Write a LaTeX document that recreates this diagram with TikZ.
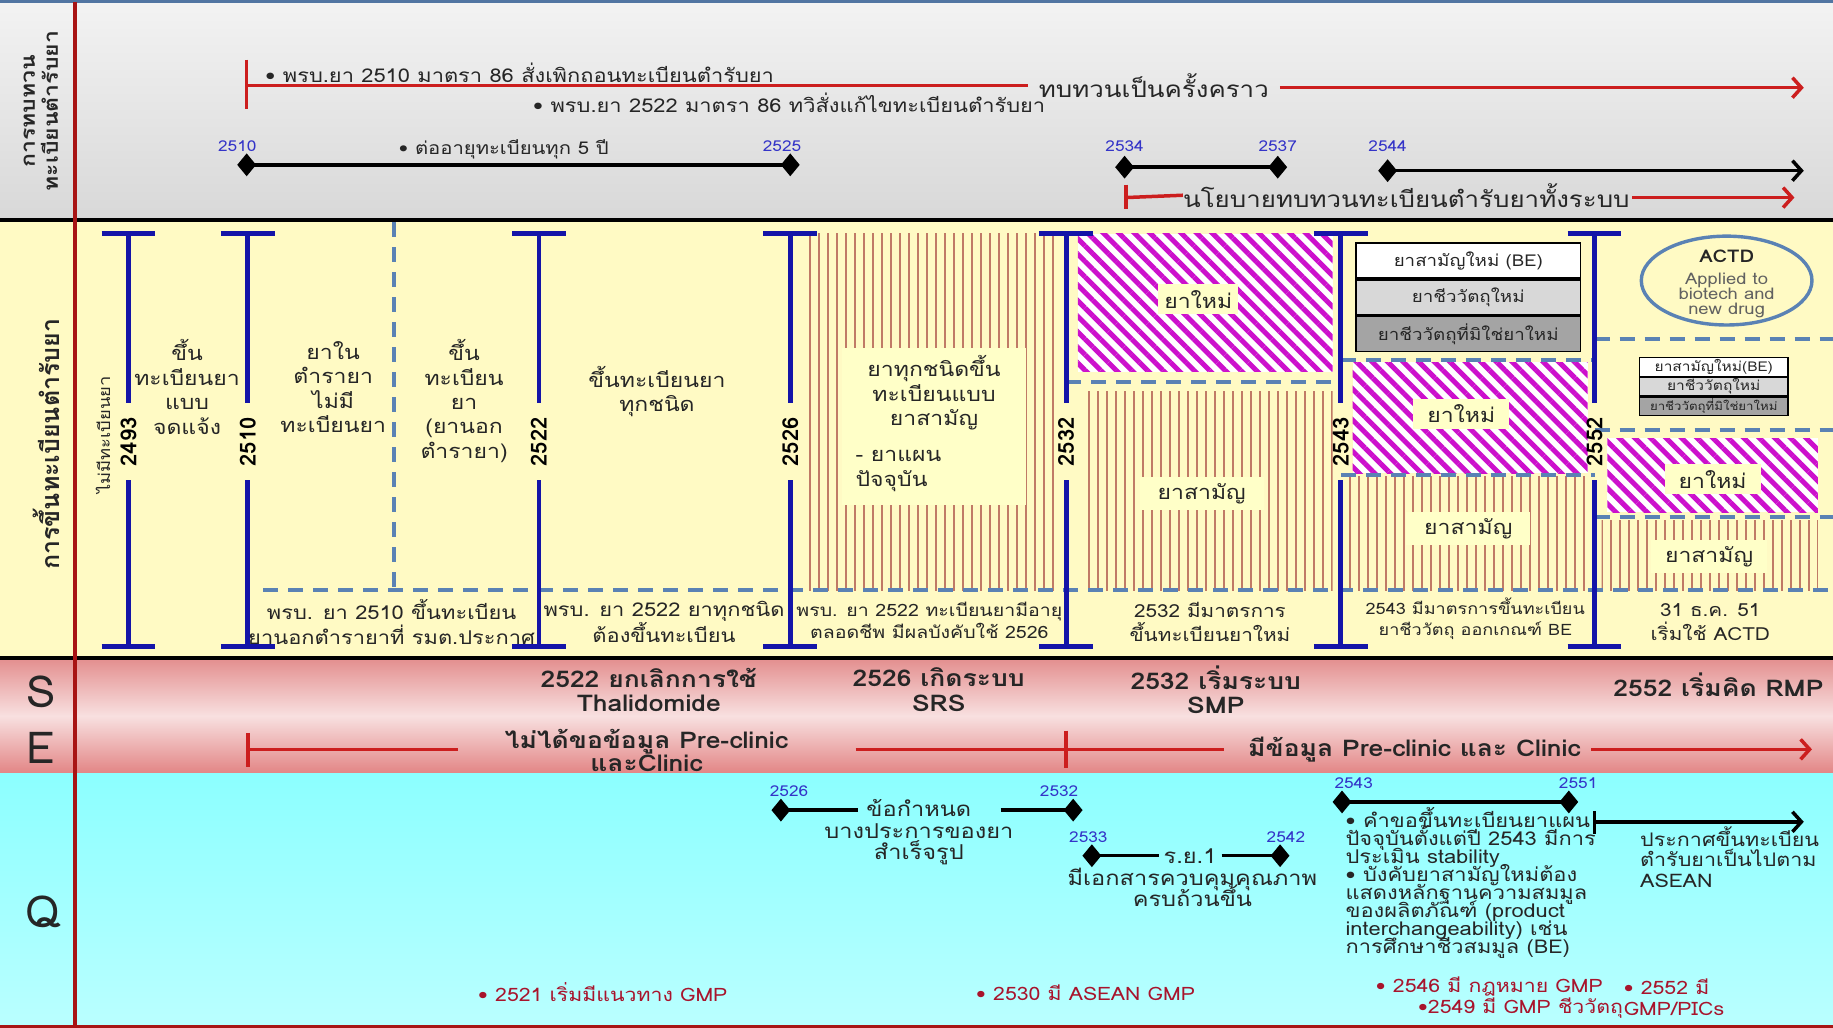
\documentclass[tikz,border=0pt]{standalone}
\usepackage{fontspec}
\setmainfont{Loma}[Script=Thai,FakeStretch=1.15]
\newfontfamily\plainloma{Loma}[Script=Thai]
\usetikzlibrary{patterns.meta,arrows.meta,shapes.geometric}
\definecolor{greyA}{HTML}{F3F3F3}
\definecolor{greyB}{HTML}{D8D8D8}
\definecolor{bandyellow}{HTML}{FFFAC4}
\definecolor{paleyellow}{HTML}{FFFFC8}
\definecolor{pinkA}{HTML}{E38E8E}
\definecolor{pinkB}{HTML}{F8E0E0}
\definecolor{pinkC}{HTML}{E28484}
\definecolor{cyanA}{HTML}{8CFFFF}
\definecolor{cyanB}{HTML}{BAFFFF}
\definecolor{beamblue}{HTML}{1414A8}
\definecolor{dashblue}{HTML}{5A82B4}
\definecolor{myred}{HTML}{CC1E1E}
\definecolor{darkred}{HTML}{A81414}
\definecolor{yearblue}{HTML}{3434C8}
\definecolor{gmpred}{HTML}{A8142C}
\definecolor{stripecol}{HTML}{C07A66}
\definecolor{hatchmag}{HTML}{CC10CC}
\definecolor{boxgreyA}{HTML}{D8D8D8}
\definecolor{boxgreyB}{HTML}{A4A4A4}
\definecolor{txtgrey}{HTML}{262626}
\newcommand\fsz[2]{\fontsize{#1pt}{#2pt}\selectfont\lineskiplimit=-60pt\relax}
\begin{document}
\begin{tikzpicture}[x=1.169pt,y=-1.169pt,
  ibeam/.style={draw=beamblue,line width=4.8pt},
  yearlbl/.style={rotate=90,font=\plainloma\fsz{22}{24}\bfseries,inner sep=1pt},
  mtext/.style={align=center,font=\fsz{20}{24.5},text=txtgrey,inner sep=2pt},
  ybox/.style={fill=paleyellow,inner sep=6pt},
  dashln/.style={draw=dashblue,line width=4pt,dash pattern=on 15pt off 10pt},
  redln/.style={draw=myred,line width=3.5pt},
  blkln/.style={draw=black,line width=3.5pt},
  redarr/.style={redln,-{Straight Barb[length=9pt,width=20pt]}},
  blkarr/.style={blkln,-{Straight Barb[length=9pt,width=20pt]}},
  dmd/.style={diamond,fill=black,minimum width=19pt,minimum height=23pt,inner sep=0pt},
  smyear/.style={text=yearblue,font=\fsz{15}{15},inner sep=1pt},
  toptxt/.style={font=\fsz{19}{20},text=txtgrey,inner sep=1pt},
  sband/.style={align=center,font=\fsz{23}{24.5}\bfseries,text=txtgrey,inner sep=1pt},
  qtxt/.style={font=\fsz{20.5}{21.6},text=txtgrey,inner sep=1pt},
  gmp/.style={font=\fsz{18.5}{21},text=gmpred,inner sep=1pt},
  hatchfill/.style={pattern={Lines[angle=-45,distance=11pt,line width=5pt]},pattern color=hatchmag},
  stripefill/.style={pattern={Lines[angle=90,distance=9pt,line width=1.4pt]},pattern color=stripecol},
  tbox/.style={draw=black,line width=1.6pt,minimum width={192*1.169pt},minimum height={30*1.169pt},font=\fsz{16.3}{17},text=txtgrey,inner sep=0pt},
  sbox/.style={draw=black,line width=1.2pt,minimum width={127*1.169pt},minimum height={15.7*1.169pt},font=\fsz{13.5}{14},text=txtgrey,inner sep=0pt}
]
\useasboundingbox (0,0) rectangle (1568,879);
% ---------- backgrounds ----------
\shade[top color=greyA,bottom color=greyB] (0,0) rectangle (1568,188);
\fill[bandyellow] (0,188) rectangle (1568,563);
\shade[top color=pinkA,bottom color=pinkC,middle color=pinkB] (0,563) rectangle (1568,662);
\shade[top color=cyanA,bottom color=cyanB] (0,662) rectangle (1568,879);
\fill[dashblue!90!black] (0,0) rectangle (1568,2.5);
% ---------- patterned regions ----------
\fill[stripefill] (688,200) rectangle (905,505);
\fill[stripefill] (925,335) rectangle (1140,505);
\fill[stripefill] (1152,408) rectangle (1357,505);
\fill[stripefill] (1370,445) rectangle (1555,505);
\fill[white] (922,200) rectangle (1140,318);
\fill[hatchfill] (922,200) rectangle (1140,318);
\fill[white] (1157,310) rectangle (1358,405);
\fill[hatchfill] (1157,310) rectangle (1358,405);
\fill[white] (1375,375) rectangle (1555,438);
\fill[hatchfill] (1375,375) rectangle (1555,438);
% ---------- dashed separators ----------
\draw[dashln] (337,190) -- (337,505);
\draw[dashln] (225,505) -- (1568,505);
\draw[dashln] (912,327) -- (1147,327);
\draw[dashln] (1147,308) -- (1364,308);
\draw[dashln] (1147,406) -- (1364,406);
\draw[dashln] (1364,290) -- (1568,290);
\draw[dashln] (1364,368) -- (1568,368);
\draw[dashln] (1364,442) -- (1568,442);
% ---------- I-beams with years ----------
\foreach \xx/\yr in {110/2493,212/2510,461/2522,676/2526,912/2532,1147/2543,1364/2552}{
  \draw[ibeam] (\xx-23,200) -- (\xx+23,200) (\xx,200) -- (\xx,345)
               (\xx,411) -- (\xx,553) (\xx-23,553) -- (\xx+23,553);
  \node[yearlbl] (yr\yr) at (\xx,378) {\yr};
}
\node[rotate=90,font=\fsz{16}{18},text=txtgrey,inner sep=0pt] (noreg) at (88,372) {ไม่มีทะเบียนยา};
% ---------- middle band texts ----------
\node[mtext] (m1) at (160,331) {ขึ้น\\ทะเบียนยา\\แบบ\\จดแจ้ง};
\node[mtext] (m2) at (285,331) {ยาใน\\ตำรายา\\ไม่มี\\ทะเบียนยา};
\node[mtext,font=\fsz{20}{24.3}] (m3) at (397,343) {ขึ้น\\ทะเบียน\\ยา\\(ยานอก\\ตำรายา)};
\node[mtext] (m4) at (562,335) {ขึ้นทะเบียนยา\\ทุกชนิด};
\node[fill=paleyellow,minimum width={158*1.169pt},minimum height={134*1.169pt},inner sep=0pt] (box2526) at (799,365) {};
\node[mtext] (m5) at (799,336) {ยาทุกชนิดขึ้น\\ทะเบียนแบบ\\ยาสามัญ};
\node[mtext,align=left,anchor=west] (m6) at (730,403) {- ยาแผน\\ปัจจุบัน};
\node[mtext,ybox] (n1) at (1025,256) {ยาใหม่};
\node[mtext,ybox,inner xsep=18pt] (g1) at (1028,422) {ยาสามัญ};
\node[mtext,ybox,inner xsep=14pt] (n2) at (1250,354) {ยาใหม่};
\node[mtext,ybox,inner xsep=18pt] (g2) at (1256,452) {ยาสามัญ};
\node[mtext,ybox,inner xsep=14pt] (n3) at (1465,410) {ยาใหม่};
\node[mtext,ybox,inner xsep=14pt] (g3) at (1462,476) {ยาสามัญ};
% boxes 2543
\node[tbox,fill=white] (b1) at (1256,223) {ยาสามัญใหม่ (BE)};
\node[tbox,fill=boxgreyA,anchor=north] (b2) at (b1.south) {ยาชีววัตถุใหม่};
\node[tbox,fill=boxgreyB,anchor=north] (b3) at (b2.south) {ยาชีววัตถุที่มิใช่ยาใหม่};
% boxes 2552
\node[sbox,fill=white] (s1) at (1466,314) {ยาสามัญใหม่(BE)};
\node[sbox,fill=boxgreyA,anchor=north] (s2) at (s1.south) {ยาชีววัตถุใหม่};
\node[sbox,fill=boxgreyB,anchor=north,font=\fsz{11.5}{12}] (s3) at (s2.south) {ยาชีววัตถุที่มิใช่ยาใหม่};
% ACTD ellipse
\node[ellipse,draw=dashblue,line width=3.4pt,minimum width={146*1.169pt},minimum height={76*1.169pt}] (actd) at (1477,240) {};
\node[font=\fsz{17.5}{18}\bfseries,text=txtgrey,inner sep=0pt] (actdt) at (1477,219) {ACTD};
\node[align=center,font=\fsz{16}{15},text=black!62,inner sep=0pt] (actds) at (1477,253) {Applied to\\biotech and\\new drug};
% bottom notes of middle band
\node[mtext,font=\fsz{19}{25.7}] (k1) at (335,532) {พรบ. ยา 2510 ขึ้นทะเบียน\\ยานอกตำรายาที่ รมต.ประกาศ};
\node[mtext,font=\fsz{19}{25.7}] (k2) at (568,532) {พรบ. ยา 2522 ยาทุกชนิด\\ต้องขึ้นทะเบียน};
\node[mtext,font=\fsz{17}{22}] (k3) at (795,531) {พรบ. ยา 2522 ทะเบียนยามีอายุ\\ตลอดชีพ มีผลบังคับใช้ 2526};
\node[mtext,font=\fsz{18}{23.4}] (k4) at (1035,532) {2532 มีมาตรการ\\ขึ้นทะเบียนยาใหม่};
\node[mtext,font=\fsz{15.7}{21}] (k5) at (1262,529) {2543 มีมาตรการขึ้นทะเบียน\\ยาชีววัตถุ ออกเกณฑ์ BE};
\node[mtext,font=\fsz{18}{23.4}] (k6) at (1463,532) {31 ธ.ค. 51\\เริ่มใช้ ACTD};
% ---------- top band ----------
\node[rotate=90,align=center,font=\fsz{20}{23}\bfseries,text=txtgrey] (lblrev) at (35,95) {การทบทวน\\ทะเบียนตำรับยา};
\coordinate (rt1) at (211,73);
\draw[redln] (211,51) -- (211,93);
\node[font=\fsz{22.5}{23},text=txtgrey,inner xsep=11pt,inner ysep=1pt] (occ) at (987,73) {ทบทวนเป็นครั้งคราว};
\draw[redln] (rt1) -- (occ.west);
\draw[redarr] (occ.east) ++(0,2) -- (1543,75);
\node[toptxt,anchor=west] (law1) at (226,62) {• พรบ.ยา 2510 มาตรา 86 สั่งเพิกถอนทะเบียนตำรับยา};
\node[toptxt,anchor=west] (law2) at (455,88) {• พรบ.ยา 2522 มาตรา 86 ทวิสั่งแก้ไขทะเบียนตำรับยา};
\node[dmd] (d2510) at (211,141) {};
\node[dmd] (d2525) at (676,141) {};
\draw[blkln] (d2510.center) -- (d2525.center);
\node[smyear] at (203,125) {2510};
\node[smyear] at (669,125) {2525};
\node[toptxt,font=\fsz{17.6}{18}] (renew) at (431,128) {• ต่ออายุทะเบียนทุก 5 ปี};
\node[dmd] (d2534) at (962,143) {};
\node[dmd] (d2537) at (1093,143) {};
\draw[blkln] (d2534.center) -- (d2537.center);
\node[smyear] at (962,125) {2534};
\node[smyear] at (1093,125) {2537};
\node[dmd] (d2544) at (1187,146) {};
\draw[blkarr] (d2544.center) -- (1543,146);
\node[smyear] at (1187,125) {2544};
\draw[redln] (963,158) -- (963,179);
\node[font=\fsz{22.5}{23},text=txtgrey,inner sep=0pt] (policy) at (1203,167) {นโยบายทบทวนทะเบียนตำรับยาทั้งระบบ};
\draw[redln] (963,169) -- (policy.west);
\draw[redarr] (policy.east) ++(2,2) -- (1535,169);
% ---------- middle left label ----------
\node[rotate=90,font=\plainloma\fsz{25}{28}\bfseries,text=txtgrey] (lblreg) at (40,380) {การขึ้นทะเบียนตำรับยา};
% ---------- S / E band ----------
\node[font=\plainloma\fsz{44}{44},text=txtgrey] (lS) at (35,592) {S};
\node[font=\plainloma\fsz{44}{44},text=txtgrey] (lE) at (35,640) {E};
\node[font=\plainloma\fsz{44}{44},text=txtgrey] (lQ) at (37,780) {Q};
\node[sband] (s2522) at (555,590) {2522 ยกเลิกการใช้\\Thalidomide};
\node[sband] (s2526) at (803,590) {2526 เกิดระบบ\\SRS};
\node[sband] (s2532) at (1040,590) {2532 เริ่มระบบ\\SMP};
\node[sband] (s2552) at (1470,586) {2552 เริ่มคิด RMP};
\draw[redln] (212,627) -- (212,656);
\node[sband,font=\fsz{23}{23.4}\bfseries] (enot) at (553,642) {ไม่ได้ขอข้อมูล Pre-clinic\\และClinic};
\draw[redln] (212,641) -- (392,641);
\draw[redln] (912,625) -- (912,657);
\draw[redln] (732,641) -- (1047,641);
\node[sband,font=\fsz{23}{23.4}\bfseries] (ehas) at (1210,641) {มีข้อมูล Pre-clinic และ Clinic};
\draw[redarr] (ehas.east) ++(8,0) -- (1550,641);
% ---------- Q band ----------
\node[dmd] (q26) at (668,693) {};
\node[dmd] (q32) at (918,693) {};
\node[qtxt,align=center] (qt1) at (786,712) {ข้อกำหนด\\บางประการของยา\\สำเร็จรูป};
\draw[blkln] (q26.center) -- (734,693);
\draw[blkln] (856,693) -- (q32.center);
\node[smyear] at (675,677) {2526};
\node[smyear] at (906,677) {2532};
\node[dmd] (q33) at (934,732) {};
\node[dmd] (q42) at (1095,732) {};
\node[qtxt,inner xsep=5pt] (ry1) at (1018,732) {ร.ย.1};
\draw[blkln] (q33.center) -- (ry1.west);
\draw[blkln] (ry1.east) -- (q42.center);
\node[smyear] at (931,716) {2533};
\node[smyear] at (1100,716) {2542};
\node[qtxt,align=center,font=\fsz{20.5}{21}] (qt2) at (1020,759) {มีเอกสารควบคุมคุณภาพ\\ครบถ้วนขึ้น};
\node[dmd] (q43) at (1148,686) {};
\node[dmd] (q51) at (1342,686) {};
\draw[blkln] (q43.center) -- (q51.center);
\node[smyear] at (1158,670) {2543};
\node[smyear] at (1350,670) {2551};
\draw[blkln] (1364,694) -- (1364,713);
\draw[blkarr] (1364,703) -- (1543,703);
\node[qtxt,font=\fsz{19}{18},align=left,anchor=north west] (qblock) at (1150,690) {• คำขอขึ้นทะเบียนยาแผน\\ปัจจุบันตั้งแต่ปี 2543 มีการ\\ประเมิน stability\\• บังคับยาสามัญใหม่ต้อง\\แสดงหลักฐานความสมมูล\\ของผลิตภัณฑ์ (product\\interchangeability) เช่น\\การศึกษาชีวสมมูล (BE)};
\node[qtxt,font=\fsz{18.7}{20.5},align=left,anchor=north west] (qasean) at (1402,706) {ประกาศขึ้นทะเบียน\\ตำรับยาเป็นไปตาม\\ASEAN};
\node[gmp,anchor=west] (g2521) at (408,849) {• 2521 เริ่มมีแนวทาง GMP};
\node[gmp,anchor=west] (g2530) at (834,849) {• 2530 มี ASEAN GMP};
\node[gmp,anchor=west] (g2546) at (1176,844) {• 2546 มี กฎหมาย GMP};
\node[gmp,anchor=west] (g2549) at (1212,862) {•2549 มี GMP ชีววัตถุ};
\node[gmp,anchor=west,align=left] (g2552) at (1388,853) {• 2552 มี\\GMP/PICs};
% ---------- frame lines ----------
\draw[black,line width=3.5pt] (0,188) -- (1568,188);
\draw[black,line width=3.5pt] (0,563) -- (1568,563);
\draw[darkred,line width=2.5pt] (0,878) -- (1568,878);
\draw[darkred,line width=3.5pt] (64,2) -- (64,879);
\end{tikzpicture}
\end{document}
